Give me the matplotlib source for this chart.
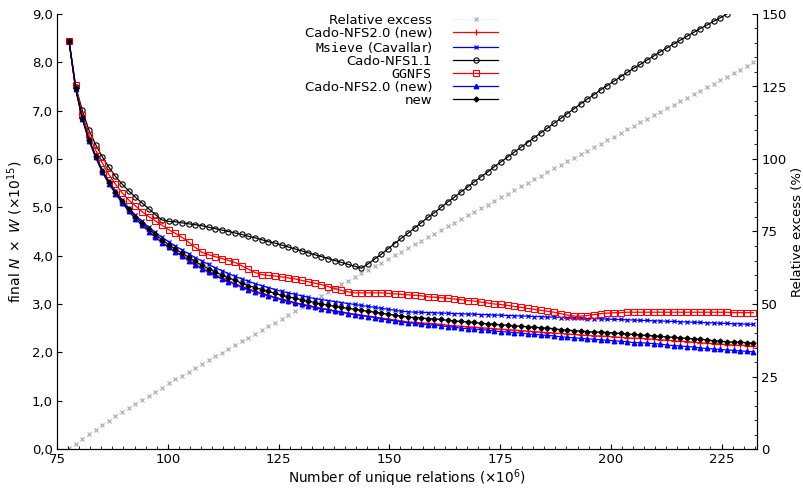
import numpy as np
import matplotlib
matplotlib.use("Agg")
import matplotlib.pyplot as plt
from matplotlib.ticker import MultipleLocator, FuncFormatter

plt.rcParams['font.family'] = ['DejaVu Sans']
plt.rcParams['mathtext.fontset'] = 'dejavusans'

# unique relations (x 10^6), one sample every 1.5M
relations = 77.7 + 1.5 * np.arange(104)

# relative excess (%), right axis
rel_excess = [0.3, 1.8, 3.5, 5.1, 6.7, 8.3, 9.8, 11.3, 12.8, 14.2,
              15.6, 17.0, 18.4, 19.8, 21.2, 22.6, 24.0, 25.3, 26.6, 27.9,
              29.2, 30.6, 31.9, 33.2, 34.5, 35.8, 37.1, 38.4, 39.7, 41.0,
              42.3, 43.6, 44.9, 46.2, 47.5, 48.8, 50.1, 51.4, 52.8, 54.1,
              55.4, 56.8, 58.1, 59.3, 60.6, 61.8, 63.1, 64.3, 65.6, 66.8,
              68.1, 69.3, 70.6, 71.8, 73.1, 74.3, 75.6, 76.8, 78.1, 79.3,
              80.6, 81.8, 83.1, 84.3, 85.6, 86.8, 88.1, 89.3, 90.6, 91.8,
              93.1, 94.3, 95.5, 96.8, 98.0, 99.2, 100.4, 101.6, 102.9, 104.1,
              105.3, 106.5, 107.7, 108.9, 110.2, 111.4, 112.6, 113.8, 115.0, 116.2,
              117.5, 118.7, 119.9, 121.1, 122.3, 123.5, 124.8, 126.0, 127.2, 128.4,
              129.6, 130.8, 132.1, 133.3]

# final N x W (x 10^15)
cado2_red = [8.45, 7.46, 6.84, 6.39, 6.05, 5.74, 5.50, 5.29, 5.10, 4.93,
             4.77, 4.64, 4.51, 4.39, 4.28, 4.18, 4.09, 4.00, 3.91, 3.82,
             3.74, 3.67, 3.60, 3.53, 3.47, 3.42, 3.36, 3.31, 3.26, 3.22,
             3.18, 3.14, 3.10, 3.07, 3.03, 3.00, 2.97, 2.94, 2.91, 2.89,
             2.86, 2.84, 2.81, 2.79, 2.77, 2.75, 2.73, 2.71, 2.69, 2.67,
             2.65, 2.63, 2.62, 2.61, 2.60, 2.59, 2.58, 2.56, 2.55, 2.54,
             2.53, 2.52, 2.51, 2.50, 2.49, 2.48, 2.47, 2.46, 2.45, 2.44,
             2.43, 2.42, 2.41, 2.40, 2.39, 2.38, 2.37, 2.36, 2.35, 2.34,
             2.34, 2.33, 2.32, 2.31, 2.30, 2.29, 2.29, 2.28, 2.27, 2.26,
             2.25, 2.24, 2.23, 2.22, 2.21, 2.20, 2.19, 2.18, 2.17, 2.16,
             2.15, 2.15, 2.14, 2.13]

msieve = [8.45, 7.47, 6.86, 6.41, 6.08, 5.77, 5.54, 5.34, 5.15, 4.99,
          4.84, 4.71, 4.59, 4.48, 4.38, 4.29, 4.20, 4.12, 4.04, 3.96,
          3.89, 3.82, 3.75, 3.69, 3.63, 3.57, 3.52, 3.47, 3.42, 3.38,
          3.34, 3.30, 3.26, 3.23, 3.20, 3.17, 3.14, 3.11, 3.09, 3.07,
          3.05, 3.03, 3.01, 2.99, 2.97, 2.95, 2.93, 2.91, 2.89, 2.87,
          2.85, 2.84, 2.83, 2.83, 2.82, 2.82, 2.81, 2.81, 2.80, 2.80,
          2.79, 2.79, 2.78, 2.78, 2.77, 2.77, 2.76, 2.76, 2.75, 2.75,
          2.74, 2.74, 2.73, 2.73, 2.72, 2.72, 2.71, 2.71, 2.70, 2.70,
          2.69, 2.69, 2.68, 2.68, 2.67, 2.67, 2.66, 2.66, 2.65, 2.65,
          2.64, 2.64, 2.63, 2.63, 2.62, 2.62, 2.61, 2.61, 2.60, 2.60,
          2.59, 2.59, 2.58, 2.58]

cado1 = [8.45, 7.50, 7.01, 6.60, 6.30, 6.05, 5.83, 5.64, 5.48, 5.34,
         5.21, 5.09, 4.97, 4.85, 4.74, 4.71, 4.70, 4.68, 4.66, 4.64,
         4.62, 4.59, 4.56, 4.53, 4.50, 4.47, 4.44, 4.40, 4.37, 4.33,
         4.29, 4.26, 4.22, 4.18, 4.14, 4.10, 4.06, 4.02, 3.98, 3.94,
         3.90, 3.86, 3.82, 3.78, 3.74, 3.83, 3.93, 4.03, 4.14, 4.25,
         4.36, 4.46, 4.57, 4.68, 4.79, 4.89, 5.00, 5.11, 5.21, 5.32,
         5.42, 5.53, 5.63, 5.73, 5.84, 5.94, 6.04, 6.14, 6.24, 6.34,
         6.44, 6.54, 6.64, 6.74, 6.84, 6.94, 7.04, 7.14, 7.24, 7.33,
         7.43, 7.52, 7.61, 7.70, 7.79, 7.88, 7.96, 8.05, 8.13, 8.22,
         8.30, 8.38, 8.46, 8.54, 8.62, 8.70, 8.77, 8.85, 8.92, 9.00]

ggnfs = [8.45, 7.53, 6.92, 6.50, 6.19, 5.92, 5.68, 5.48, 5.30, 5.15,
         5.03, 4.91, 4.81, 4.72, 4.63, 4.54, 4.46, 4.38, 4.28, 4.17,
         4.07, 4.02, 3.98, 3.94, 3.90, 3.86, 3.79, 3.72, 3.65, 3.61,
         3.59, 3.58, 3.56, 3.54, 3.52, 3.49, 3.46, 3.43, 3.40, 3.36,
         3.32, 3.28, 3.25, 3.23, 3.23, 3.23, 3.23, 3.23, 3.22, 3.21,
         3.20, 3.19, 3.18, 3.17, 3.15, 3.14, 3.13, 3.12, 3.10, 3.09,
         3.07, 3.06, 3.04, 3.02, 3.00, 2.99, 2.97, 2.95, 2.93, 2.91,
         2.89, 2.87, 2.85, 2.83, 2.80, 2.77, 2.75, 2.75, 2.76, 2.78,
         2.80, 2.81, 2.82, 2.82, 2.83, 2.83, 2.83, 2.83, 2.83, 2.83,
         2.83, 2.83, 2.83, 2.83, 2.83, 2.83, 2.83, 2.83, 2.83, 2.83,
         2.82, 2.82, 2.82, 2.82]

cado2_blue = [8.44, 7.45, 6.83, 6.38, 6.04, 5.73, 5.49, 5.28, 5.09, 4.92,
              4.76, 4.63, 4.50, 4.38, 4.27, 4.17, 4.08, 3.99, 3.90, 3.81,
              3.73, 3.66, 3.59, 3.52, 3.46, 3.41, 3.35, 3.30, 3.25, 3.21,
              3.17, 3.13, 3.09, 3.06, 3.02, 2.99, 2.96, 2.93, 2.90, 2.88,
              2.85, 2.83, 2.80, 2.78, 2.76, 2.74, 2.72, 2.69, 2.67, 2.65,
              2.63, 2.61, 2.60, 2.58, 2.57, 2.56, 2.55, 2.53, 2.52, 2.50,
              2.49, 2.48, 2.47, 2.46, 2.44, 2.43, 2.42, 2.41, 2.40, 2.38,
              2.37, 2.36, 2.35, 2.34, 2.32, 2.31, 2.30, 2.29, 2.28, 2.27,
              2.26, 2.25, 2.24, 2.23, 2.22, 2.20, 2.20, 2.19, 2.18, 2.17,
              2.15, 2.14, 2.13, 2.12, 2.11, 2.09, 2.08, 2.07, 2.06, 2.05,
              2.04, 2.03, 2.02, 2.01]

new = [8.45, 7.47, 6.85, 6.40, 6.07, 5.76, 5.52, 5.32, 5.13, 4.96,
       4.81, 4.68, 4.55, 4.44, 4.33, 4.23, 4.14, 4.05, 3.97, 3.88,
       3.80, 3.73, 3.66, 3.60, 3.54, 3.49, 3.43, 3.38, 3.34, 3.30,
       3.26, 3.22, 3.18, 3.15, 3.12, 3.09, 3.06, 3.03, 3.00, 2.98,
       2.95, 2.93, 2.91, 2.89, 2.87, 2.85, 2.83, 2.81, 2.79, 2.77,
       2.75, 2.73, 2.72, 2.71, 2.70, 2.69, 2.68, 2.66, 2.65, 2.64,
       2.63, 2.62, 2.60, 2.59, 2.58, 2.57, 2.56, 2.55, 2.54, 2.53,
       2.52, 2.51, 2.50, 2.49, 2.47, 2.46, 2.45, 2.44, 2.43, 2.42,
       2.42, 2.41, 2.40, 2.39, 2.38, 2.37, 2.36, 2.35, 2.34, 2.33,
       2.32, 2.31, 2.30, 2.29, 2.28, 2.27, 2.26, 2.24, 2.23, 2.22,
       2.21, 2.21, 2.20, 2.19]

fig = plt.figure(figsize=(8.04, 4.9), dpi=100)
ax = fig.add_axes([57 / 804, 1 - 449 / 490, 700 / 804, 435 / 490])
ax2 = ax.twinx()
ax.set_zorder(2)
ax.patch.set_visible(False)

lw = 0.9
h0, = ax2.plot(relations, rel_excess, ls=':', lw=0.5, color='#d8d8d8', marker='x',
               ms=3.0, mec='#a8a8a8', mew=0.8, label='Relative excess')
h1, = ax.plot(relations, cado2_red, color='red', lw=lw, marker='+', ms=4.5, mew=0.9,
              label='Cado-NFS2.0 (new)')
h2, = ax.plot(relations, msieve, color='blue', lw=lw, marker='x', ms=3.5, mew=0.9,
              label=r'$\mathtt{Msieve}$ (Cavallar)')
h3, = ax.plot(relations[:len(cado1)], cado1, color='black', lw=lw, marker='o', ms=3.8,
              mfc='none', mew=0.8, label='Cado-NFS1.1')
h4, = ax.plot(relations, ggnfs, color='red', lw=lw, marker='s', ms=3.8, mfc='none',
              mew=0.8, label=r'$\mathtt{GGNFS}$')
h5, = ax.plot(relations, cado2_blue, color='blue', lw=lw, marker='^', ms=3.2,
              label='Cado-NFS2.0 (new)')
h6, = ax.plot(relations, new, color='black', lw=lw, marker='D', ms=2.5,
              label='new')

ax.set_xlim(75, 233)
ax.set_ylim(0, 9)
ax2.set_ylim(0, 150)

ax.xaxis.set_major_locator(MultipleLocator(25))
ax.xaxis.set_minor_locator(MultipleLocator(2.5))
ax.yaxis.set_major_locator(MultipleLocator(1))
ax.yaxis.set_major_formatter(FuncFormatter(lambda v, p: f"{v:.1f}".replace('.', ',')))
ax2.yaxis.set_major_locator(MultipleLocator(25))
ax2.yaxis.set_minor_locator(MultipleLocator(5))

for a in (ax, ax2):
    a.spines['top'].set_visible(False)
    a.tick_params(direction='in', labelsize=9.5, width=0.8, pad=3)
    a.tick_params(which='minor', direction='in', length=2.5, width=0.6)
ax.tick_params(axis='y', which='both', right=False)
ax.tick_params(axis='x', which='both', top=False)

ax.set_xlabel(r'Number of unique relations ($\times 10^6$)', fontsize=9.8, labelpad=1)
ax.set_ylabel(r'final $N\ \times\ W$ ($\times 10^{15}$)', fontsize=10, labelpad=5)
ax2.set_ylabel('Relative excess (%)', fontsize=9.5, labelpad=3)

leg = ax.legend(handles=[h0, h1, h2, h3, h4, h5, h6], loc='upper right',
                bbox_to_anchor=(0.63, 1.0), frameon=False, markerfirst=False,
                fontsize=9.5, handlelength=3.4, labelspacing=0.0, borderpad=0.0,
                borderaxespad=0.0, handletextpad=1.6)

fig.savefig('out.png', dpi=100)
